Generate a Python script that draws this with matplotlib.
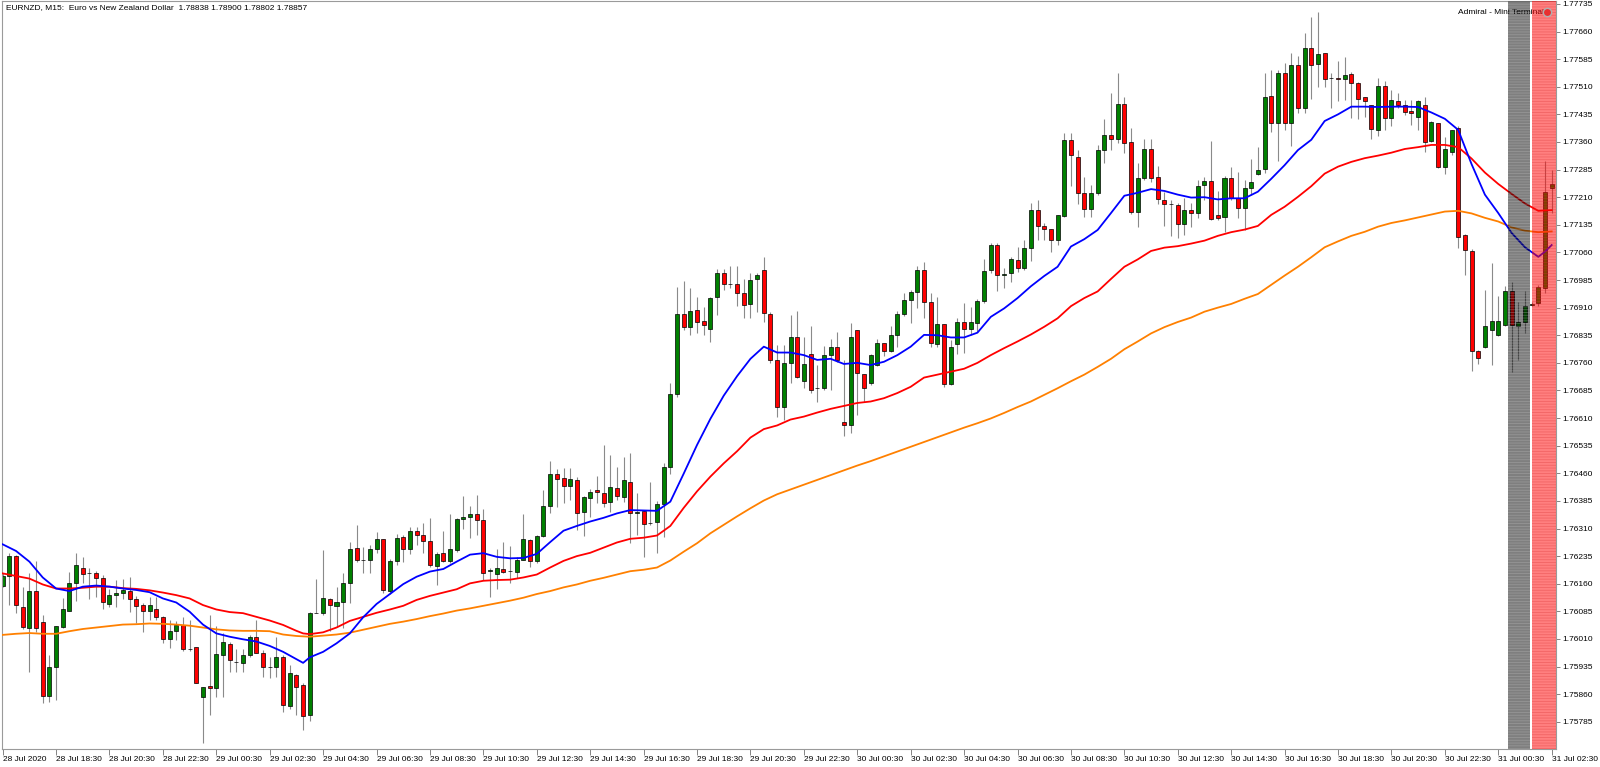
import numpy as np
import matplotlib
matplotlib.use("Agg")
import matplotlib.pyplot as plt

plt.rcParams['font.family'] = ['Liberation Sans', 'DejaVu Sans']
plt.rcParams['hatch.linewidth'] = 0.6

# ---------------- data (EURNZD M15) ----------------
opens = [1.76154,1.76181,1.76234,1.76096,1.76041,1.76139,1.76056,1.75855,1.75933,1.76043,
1.76087,1.76161,1.76203,1.76188,1.76188,1.76176,1.76105,1.76130,1.76134,1.76141,
1.76119,1.76101,1.76087,1.76092,1.76070,1.76011,1.76031,1.76047,1.75984,1.75987,
1.75853,1.75882,1.75877,1.75965,1.75996,1.75946,1.75945,1.75965,1.76016,1.75971,
1.75935,1.75935,1.75960,1.75828,1.75913,1.75884,1.75804,1.76081,1.76081,1.76118,
1.76099,1.76110,1.76163,1.76256,1.76225,1.76225,1.76253,1.76281,1.76141,1.76221,
1.76286,1.76255,1.76303,1.76291,1.76276,1.76208,1.76243,1.76221,1.76252,1.76335,
1.76340,1.76349,1.76333,1.76195,1.76186,1.76200,1.76195,1.76193,1.76224,1.76279,
1.76223,1.76290,1.76371,1.76458,1.76447,1.76426,1.76442,1.76355,1.76393,1.76415,
1.76407,1.76382,1.76419,1.76395,1.76437,1.76351,1.76357,1.76324,1.76328,1.76377,
1.76476,1.76676,1.76893,1.76857,1.76904,1.76874,1.76851,1.76938,1.77005,1.76975,
1.76973,1.76951,1.76919,1.76987,1.77011,1.76893,1.76768,1.76641,1.76759,1.76831,
1.76711,1.76783,1.76691,1.76691,1.76780,1.76802,1.76600,1.76590,1.76849,1.76729,
1.76704,1.76754,1.76815,1.76793,1.76835,1.76894,1.76931,1.76952,1.77012,1.76926,
1.76811,1.76865,1.76702,1.76811,1.76872,1.76851,1.76869,1.76929,1.77012,1.77080,
1.77000,1.77003,1.77039,1.77017,1.77073,1.77175,1.77133,1.77123,1.77094,1.77159,
1.77366,1.77320,1.77222,1.77177,1.77222,1.77338,1.77378,1.77369,1.77462,1.77359,
1.77171,1.77261,1.77340,1.77264,1.77202,1.77191,1.77189,1.77137,1.77175,1.77166,
1.77242,1.77254,1.77161,1.77155,1.77263,1.77207,1.77182,1.77234,1.77273,1.77286,
1.77485,1.77411,1.77548,1.77411,1.77569,1.77452,1.77615,1.77572,1.77603,1.77533,
1.77533,1.77530,1.77545,1.77521,1.77481,1.77460,1.77393,1.77512,1.77424,1.77471,
1.77461,1.77444,1.77429,1.77461,1.77364,1.77411,1.77293,1.77332,1.77397,1.77107,
1.77065,1.76793,1.76804,1.76849,1.76835,1.76863,1.76956,1.76860,1.76871,1.76918,
1.76922,1.76962,1.77234]
highs = [1.76188,1.76243,1.76238,1.76152,1.76190,1.76222,1.76075,1.75966,1.76045,1.76120,
1.76193,1.76244,1.76232,1.76202,1.76195,1.76183,1.76147,1.76170,1.76172,1.76179,
1.76127,1.76108,1.76125,1.76125,1.76072,1.76061,1.76058,1.76070,1.76061,1.75987,
1.75880,1.76075,1.76045,1.76025,1.76003,1.75984,1.75984,1.76021,1.76061,1.75980,
1.75960,1.76014,1.75965,1.75938,1.75916,1.75889,1.76083,1.76172,1.76252,1.76120,
1.76152,1.76188,1.76272,1.76320,1.76259,1.76265,1.76301,1.76281,1.76226,1.76295,
1.76292,1.76315,1.76315,1.76324,1.76338,1.76247,1.76303,1.76349,1.76339,1.76399,
1.76371,1.76401,1.76364,1.76202,1.76253,1.76272,1.76262,1.76233,1.76349,1.76281,
1.76292,1.76415,1.76494,1.76471,1.76474,1.76474,1.76451,1.76398,1.76416,1.76453,
1.76537,1.76510,1.76478,1.76503,1.76514,1.76406,1.76360,1.76437,1.76386,1.76487,
1.76705,1.76967,1.76981,1.76963,1.76940,1.76913,1.76940,1.77014,1.77014,1.77022,
1.77022,1.76987,1.77004,1.77004,1.77047,1.76897,1.76809,1.76808,1.76890,1.76902,
1.76831,1.76860,1.76754,1.76806,1.76824,1.76843,1.76768,1.76869,1.76849,1.76729,
1.76783,1.76824,1.76815,1.76861,1.76902,1.76949,1.76958,1.77023,1.77035,1.76949,
1.76938,1.76865,1.76822,1.76881,1.76923,1.76911,1.76934,1.77041,1.77085,1.77086,
1.77019,1.77048,1.77076,1.77094,1.77193,1.77202,1.77139,1.77123,1.77161,1.77384,
1.77384,1.77337,1.77264,1.77242,1.77352,1.77422,1.77494,1.77547,1.77482,1.77397,
1.77302,1.77367,1.77367,1.77295,1.77225,1.77202,1.77193,1.77207,1.77193,1.77257,
1.77266,1.77363,1.77227,1.77268,1.77293,1.77279,1.77257,1.77313,1.77347,1.77547,
1.77556,1.77556,1.77574,1.77603,1.77594,1.77657,1.77699,1.77714,1.77603,1.77547,
1.77581,1.77592,1.77551,1.77524,1.77483,1.77460,1.77533,1.77526,1.77501,1.77494,
1.77474,1.77474,1.77474,1.77481,1.77418,1.77411,1.77373,1.77393,1.77403,1.77109,
1.77068,1.76795,1.76958,1.77030,1.76941,1.76970,1.76980,1.76926,1.76956,1.76926,
1.76971,1.77308,1.77284]
lows = [1.76152,1.76102,1.76080,1.76036,1.75921,1.76030,1.75835,1.75839,1.75844,1.76041,
1.76085,1.76114,1.76161,1.76118,1.76125,1.76090,1.76096,1.76096,1.76118,1.76084,
1.76052,1.76030,1.76061,1.76061,1.76000,1.75985,1.76007,1.75978,1.75978,1.75889,
1.75726,1.75803,1.75851,1.75851,1.75921,1.75921,1.75921,1.75962,1.75971,1.75906,
1.75903,1.75907,1.75812,1.75819,1.75803,1.75762,1.75788,1.76080,1.76075,1.76032,
1.76043,1.76039,1.76107,1.76220,1.76190,1.76190,1.76244,1.76134,1.76132,1.76211,
1.76220,1.76240,1.76265,1.76244,1.76206,1.76156,1.76220,1.76215,1.76247,1.76310,
1.76283,1.76292,1.76170,1.76125,1.76147,1.76190,1.76163,1.76175,1.76224,1.76206,
1.76215,1.76286,1.76351,1.76369,1.76380,1.76388,1.76306,1.76290,1.76342,1.76378,
1.76369,1.76356,1.76388,1.76383,1.76270,1.76292,1.76233,1.76320,1.76243,1.76288,
1.76458,1.76668,1.76850,1.76836,1.76842,1.76836,1.76818,1.76890,1.76958,1.76963,
1.76915,1.76881,1.76881,1.76899,1.76872,1.76759,1.76614,1.76605,1.76704,1.76718,
1.76691,1.76677,1.76654,1.76686,1.76686,1.76763,1.76560,1.76570,1.76618,1.76654,
1.76700,1.76751,1.76778,1.76790,1.76804,1.76887,1.76867,1.76908,1.76881,1.76804,
1.76804,1.76695,1.76700,1.76784,1.76786,1.76836,1.76845,1.76923,1.77003,1.76956,
1.76964,1.76980,1.77008,1.77012,1.77037,1.77094,1.77094,1.77062,1.77080,1.77157,
1.77241,1.77192,1.77155,1.77157,1.77216,1.77302,1.77338,1.77357,1.77329,1.77164,
1.77128,1.77257,1.77252,1.77192,1.77133,1.77105,1.77098,1.77107,1.77130,1.77153,
1.77202,1.77148,1.77148,1.77116,1.77202,1.77153,1.77121,1.77216,1.77270,1.77275,
1.77388,1.77309,1.77393,1.77349,1.77438,1.77440,1.77476,1.77509,1.77509,1.77452,
1.77472,1.77474,1.77424,1.77422,1.77429,1.77367,1.77375,1.77393,1.77404,1.77452,
1.77433,1.77406,1.77393,1.77334,1.77361,1.77290,1.77273,1.77325,1.77071,1.76999,
1.76739,1.76758,1.76801,1.76754,1.76833,1.76860,1.76736,1.76769,1.76842,1.76915,
1.76914,1.76949,1.77166]
closes = [1.76181,1.76235,1.76101,1.76043,1.76139,1.76041,1.75855,1.75933,1.76045,1.76092,
1.76163,1.76210,1.76186,1.76189,1.76176,1.76110,1.76129,1.76136,1.76143,1.76119,
1.76100,1.76087,1.76101,1.76070,1.76011,1.76031,1.76047,1.75984,1.75984,1.75889,
1.75880,1.75877,1.75969,1.76002,1.75954,1.75946,1.75967,1.76016,1.75973,1.75933,
1.75935,1.75960,1.75830,1.75918,1.75880,1.75802,1.76080,1.76081,1.76121,1.76101,
1.76110,1.76163,1.76255,1.76225,1.76225,1.76253,1.76281,1.76143,1.76221,1.76283,
1.76255,1.76303,1.76291,1.76276,1.76212,1.76241,1.76223,1.76253,1.76335,1.76342,
1.76349,1.76333,1.76190,1.76197,1.76202,1.76193,1.76195,1.76224,1.76281,1.76222,
1.76290,1.76371,1.76458,1.76445,1.76426,1.76444,1.76353,1.76395,1.76410,1.76410,
1.76380,1.76422,1.76397,1.76442,1.76353,1.76355,1.76321,1.76324,1.76377,1.76476,
1.76676,1.76893,1.76857,1.76902,1.76870,1.76862,1.76936,1.77005,1.76973,1.76975,
1.76951,1.76917,1.76984,1.76999,1.76895,1.76768,1.76641,1.76759,1.76831,1.76722,
1.76757,1.76686,1.76692,1.76780,1.76804,1.76769,1.76590,1.76831,1.76733,1.76691,
1.76780,1.76815,1.76793,1.76835,1.76894,1.76931,1.76952,1.77012,1.76926,1.76813,
1.76865,1.76702,1.76802,1.76872,1.76851,1.76871,1.76929,1.77010,1.77079,1.77000,
1.77001,1.77041,1.77017,1.77071,1.77175,1.77133,1.77124,1.77094,1.77161,1.77366,
1.77324,1.77222,1.77179,1.77222,1.77338,1.77379,1.77367,1.77462,1.77358,1.77171,
1.77261,1.77340,1.77261,1.77204,1.77191,1.77192,1.77137,1.77175,1.77166,1.77240,
1.77254,1.77151,1.77153,1.77263,1.77209,1.77182,1.77234,1.77250,1.77284,1.77483,
1.77411,1.77547,1.77411,1.77569,1.77452,1.77615,1.77569,1.77598,1.77530,1.77533,
1.77532,1.77542,1.77520,1.77476,1.77470,1.77394,1.77512,1.77424,1.77474,1.77461,
1.77442,1.77438,1.77472,1.77361,1.77413,1.77293,1.77341,1.77393,1.77103,1.77066,
1.76793,1.76772,1.76860,1.76874,1.76874,1.76956,1.76863,1.76872,1.76915,1.76920,
1.76965,1.77225,1.77246]

# moving-average readings, one every two bars (plus the turning bars 45 and 231)
ma_bars = list(range(0, 45, 2)) + [45] + list(range(46, 231, 2)) + [231, 232]
ma_blue = [1.76267,1.76249,1.76220,1.76177,1.76147,1.76140,1.76152,1.76155,1.76152,1.76147,
           1.76143,1.76137,1.76120,1.76109,1.76084,1.76049,1.76025,1.76016,1.76009,1.76003,
           1.75991,1.75975,1.75955,
           1.75945,
           1.75960,1.75975,1.75998,1.76025,1.76069,1.76105,1.76132,1.76159,1.76179,1.76193,
           1.76200,1.76220,1.76239,1.76243,1.76233,1.76229,1.76230,1.76241,1.76273,1.76304,
           1.76317,1.76329,1.76339,1.76351,1.76360,1.76359,1.76358,1.76383,1.76459,1.76537,
           1.76608,1.76671,1.76724,1.76771,1.76804,1.76788,1.76788,1.76781,1.76768,1.76771,
           1.76757,1.76760,1.76754,1.76763,1.76781,1.76804,1.76836,1.76835,1.76829,1.76829,
           1.76842,1.76885,1.76908,1.76936,1.76968,1.76996,1.77021,1.77076,1.77096,1.77121,
           1.77167,1.77214,1.77222,1.77232,1.77227,1.77217,1.77209,1.77210,1.77204,1.77207,
           1.77207,1.77225,1.77260,1.77297,1.77338,1.77366,1.77417,1.77435,1.77456,1.77456,
           1.77455,1.77456,1.77456,1.77455,1.77440,1.77423,1.77393,1.77300,1.77217,1.77167,
           1.77113,1.77074,1.77048,
           1.77062,1.77080]
ma_red = [1.76188,1.76181,1.76174,1.76158,1.76147,1.76147,1.76149,1.76152,1.76152,1.76148,
          1.76146,1.76142,1.76136,1.76129,1.76120,1.76102,1.76090,1.76083,1.76080,1.76070,
          1.76060,1.76048,1.76032,
          1.76025,
          1.76023,1.76028,1.76041,1.76059,1.76070,1.76081,1.76090,1.76100,1.76116,1.76127,
          1.76136,1.76145,1.76161,1.76168,1.76170,1.76171,1.76177,1.76185,1.76204,1.76222,
          1.76235,1.76244,1.76258,1.76272,1.76282,1.76285,1.76291,1.76317,1.76366,1.76411,
          1.76451,1.76487,1.76520,1.76557,1.76580,1.76590,1.76606,1.76614,1.76625,1.76635,
          1.76643,1.76651,1.76655,1.76664,1.76678,1.76695,1.76720,1.76728,1.76736,1.76744,
          1.76760,1.76781,1.76800,1.76818,1.76837,1.76858,1.76881,1.76914,1.76936,1.76954,
          1.76988,1.77021,1.77041,1.77064,1.77073,1.77077,1.77084,1.77092,1.77105,1.77115,
          1.77122,1.77132,1.77162,1.77184,1.77211,1.77240,1.77274,1.77293,1.77306,1.77316,
          1.77323,1.77331,1.77341,1.77346,1.77352,1.77352,1.77346,1.77315,1.77277,1.77246,
          1.77219,1.77193,1.77173,
          1.77174,1.77175]
ma_orange = [1.76021,1.76024,1.76026,1.76024,1.76024,1.76031,1.76037,1.76041,1.76045,1.76049,
             1.76050,1.76052,1.76051,1.76049,1.76046,1.76041,1.76036,1.76033,1.76032,1.76032,
             1.76031,1.76022,1.76018,
             1.76017,
             1.76016,1.76019,1.76022,1.76027,1.76035,1.76043,1.76051,1.76057,1.76064,1.76072,
             1.76079,1.76087,1.76093,1.76100,1.76107,1.76114,1.76122,1.76132,1.76140,1.76150,
             1.76158,1.76168,1.76176,1.76185,1.76194,1.76198,1.76204,1.76223,1.76247,1.76270,
             1.76297,1.76320,1.76343,1.76365,1.76386,1.76403,1.76416,1.76429,1.76442,1.76455,
             1.76468,1.76481,1.76493,1.76506,1.76519,1.76532,1.76545,1.76558,1.76571,1.76584,
             1.76596,1.76609,1.76624,1.76640,1.76655,1.76673,1.76691,1.76710,1.76728,1.76749,
             1.76771,1.76797,1.76818,1.76840,1.76857,1.76871,1.76883,1.76899,1.76910,1.76920,
             1.76934,1.76947,1.76972,1.76997,1.77021,1.77047,1.77074,1.77090,1.77105,1.77116,
             1.77130,1.77140,1.77147,1.77155,1.77163,1.77171,1.77173,1.77166,1.77154,1.77144,
             1.77128,1.77119,1.77115,
             1.77116,1.77117]

x_tick_bars = [0,8,16,24,32,40,48,56,64,72,80,88,96,104,112,120,128,136,144,152,
               160,168,176,184,192,200,208,216,224,232]
x_tick_labels = ["28 Jul 2020","28 Jul 18:30","28 Jul 20:30","28 Jul 22:30","29 Jul 00:30",
                 "29 Jul 02:30","29 Jul 04:30","29 Jul 06:30","29 Jul 08:30","29 Jul 10:30",
                 "29 Jul 12:30","29 Jul 14:30","29 Jul 16:30","29 Jul 18:30","29 Jul 20:30",
                 "29 Jul 22:30","30 Jul 00:30","30 Jul 02:30","30 Jul 04:30","30 Jul 06:30",
                 "30 Jul 08:30","30 Jul 10:30","30 Jul 12:30","30 Jul 14:30","30 Jul 16:30",
                 "30 Jul 18:30","30 Jul 20:30","30 Jul 22:30","31 Jul 00:30","31 Jul 02:30"]
y_ticks = [1.75785,1.75860,1.75935,1.76010,1.76085,1.76160,1.76235,1.76310,1.76385,1.76460,
           1.76535,1.76610,1.76685,1.76760,1.76835,1.76910,1.76985,1.77060,1.77135,1.77210,
           1.77285,1.77360,1.77435,1.77510,1.77585,1.77660,1.77735]

title_text = "EURNZD, M15:  Euro vs New Zealand Dollar  1.78838 1.78900 1.78802 1.78857"
panel_text = "Admiral - Mini Terminal"

# ---------------- figure ----------------
W, H = 1600, 767
fig = plt.figure(figsize=(W / 100, H / 100), dpi=100)
fig.patch.set_facecolor("white")
ax = fig.add_axes([2 / W, 18 / H, 1554 / W, 748 / H])
ax.set_facecolor("white")

o = np.array(opens); h = np.array(highs); l = np.array(lows); c = np.array(closes)
x = np.arange(len(o))
up = c >= o

ax.vlines(x, l, h, color="#8a8a8a", linewidth=0.8, zorder=1)
body_w = 0.6
ax.bar(x[up], (c - o)[up], bottom=o[up], width=body_w, color="#008000",
       edgecolor="black", linewidth=0.5, zorder=2)
ax.bar(x[~up], (c - o)[~up], bottom=o[~up], width=body_w, color="#ff0000",
       edgecolor="black", linewidth=0.5, zorder=2)

n = min(len(ma_bars), len(ma_blue), len(ma_red), len(ma_orange))
ax.plot(ma_bars[:n], ma_orange[:n], color="#ff8000", linewidth=1.3, zorder=3,
        solid_joinstyle="round")
ax.plot(ma_bars[:n], ma_red[:n], color="#ff0000", linewidth=1.3, zorder=3,
        solid_joinstyle="round")
ax.plot(ma_bars[:n], ma_blue[:n], color="#0000ff", linewidth=1.3, zorder=3,
        solid_joinstyle="round")

# panel caption (sits under the highlight bands)
ax.text(0.937, 0.985, panel_text, transform=ax.transAxes, fontsize=6,
        ha="left", va="center", color="black", zorder=5)
ax.plot([0.9945], [0.985], marker="o", markersize=6, color="#e83030",
        markeredgecolor="#b0b0b0", transform=ax.transAxes, zorder=8, clip_on=False)

# overlay bands (highlighted bars)
gray_span = (225.45, 228.75)
red_span = (229.05, 232.6)
ax.axvspan(*gray_span, facecolor="black", alpha=0.5, linewidth=0, zorder=6)
ax.axvspan(*gray_span, facecolor="none", edgecolor=(0.75, 0.75, 0.75, 0.35),
           hatch="------", linewidth=0, zorder=7)
ax.axvspan(*red_span, facecolor="#ff0000", alpha=0.5, linewidth=0, zorder=6)
ax.axvspan(*red_span, facecolor="none", edgecolor=(0.85, 0.2, 0.2, 0.35),
           hatch="------", linewidth=0, zorder=7)

ax.set_xlim(-0.1, 232.65)
ax.set_ylim(1.75711, 1.77743)

# axes styling
for side in ["left", "top", "right", "bottom"]:
    ax.spines[side].set_color("#9a9a9a")
    ax.spines[side].set_linewidth(0.8)

ax.yaxis.tick_right()
ax.set_yticks(y_ticks)
ax.set_yticklabels([f"{v:.5f}" for v in y_ticks])
ax.tick_params(axis="y", which="both", direction="out", length=3, width=0.6,
               color="#707070", labelsize=6, pad=1.5, labelcolor="black")

ax.set_xticks(x_tick_bars)
ax.set_xticklabels(x_tick_labels, ha="left")
ax.tick_params(axis="x", which="both", direction="out", length=4, width=0.6,
               color="#707070", labelsize=6, pad=1.0, labelcolor="black")

fig.text(6 / W, 1 - 4 / H, title_text, fontsize=6, va="top", ha="left", color="black")

fig.savefig("out.png", dpi=100, facecolor="white")
